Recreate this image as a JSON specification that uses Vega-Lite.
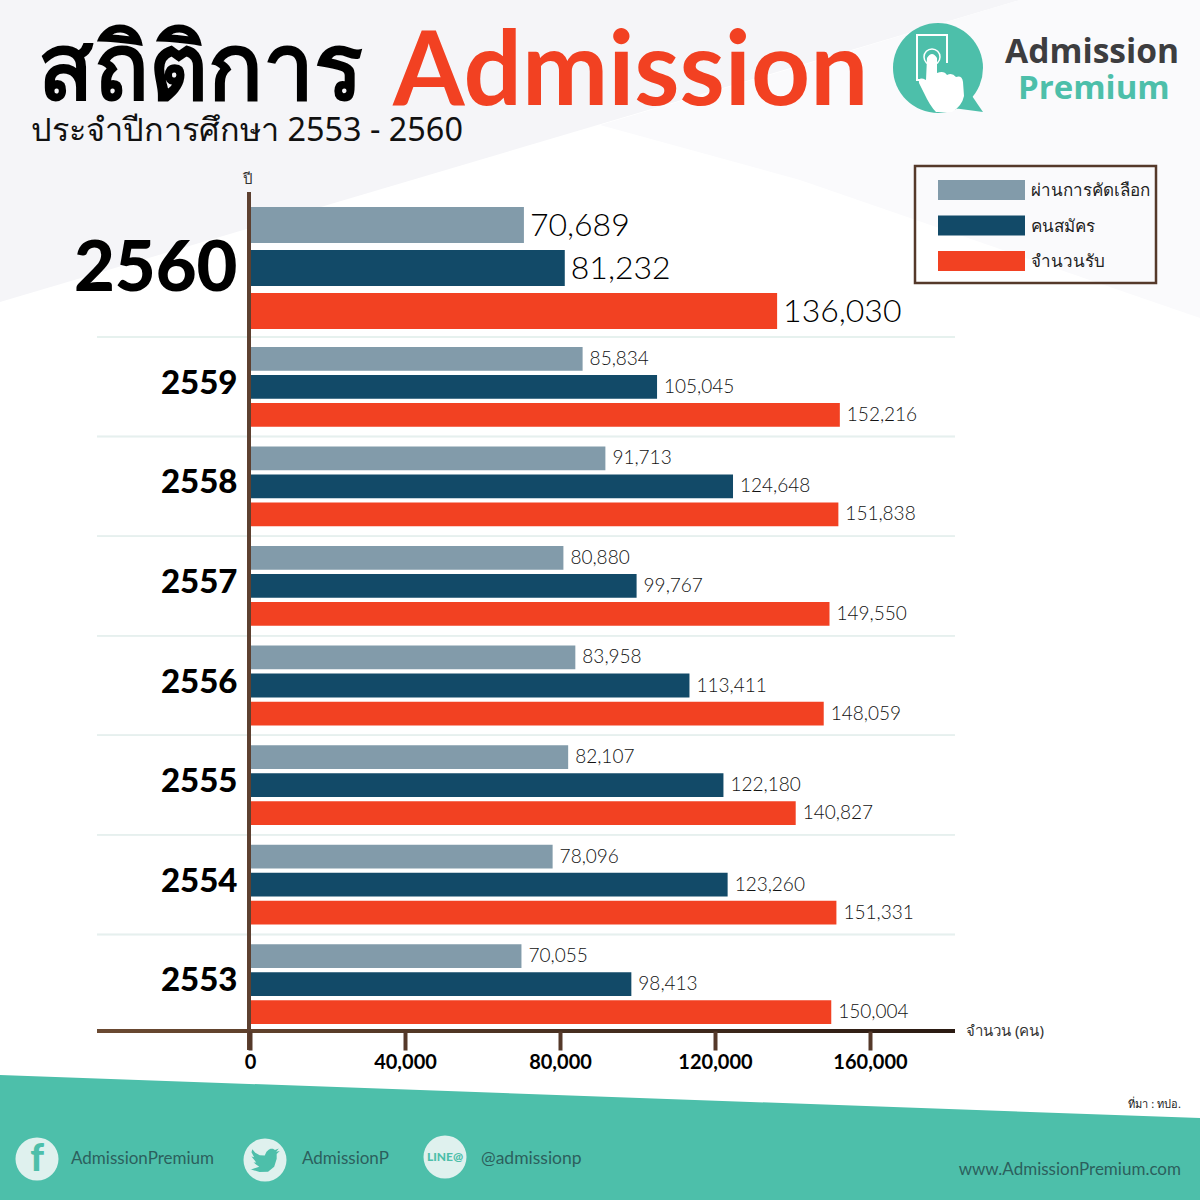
{"$schema":"https://vega.github.io/schema/vega-lite/v6.json","width":1200,"height":1200,"padding":0,"autosize":{"type":"none"},"background":"#ffffff","config":{"view":{"stroke":null}},
"datasets":{"bars":[
{"year":"2560","series":"ผ่านการคัดเลือก","value":70689},{"year":"2560","series":"คนสมัคร","value":81232},{"year":"2560","series":"จำนวนรับ","value":136030},
{"year":"2559","series":"ผ่านการคัดเลือก","value":85834},{"year":"2559","series":"คนสมัคร","value":105045},{"year":"2559","series":"จำนวนรับ","value":152216},
{"year":"2558","series":"ผ่านการคัดเลือก","value":91713},{"year":"2558","series":"คนสมัคร","value":124648},{"year":"2558","series":"จำนวนรับ","value":151838},
{"year":"2557","series":"ผ่านการคัดเลือก","value":80880},{"year":"2557","series":"คนสมัคร","value":99767},{"year":"2557","series":"จำนวนรับ","value":149550},
{"year":"2556","series":"ผ่านการคัดเลือก","value":83958},{"year":"2556","series":"คนสมัคร","value":113411},{"year":"2556","series":"จำนวนรับ","value":148059},
{"year":"2555","series":"ผ่านการคัดเลือก","value":82107},{"year":"2555","series":"คนสมัคร","value":122180},{"year":"2555","series":"จำนวนรับ","value":140827},
{"year":"2554","series":"ผ่านการคัดเลือก","value":78096},{"year":"2554","series":"คนสมัคร","value":123260},{"year":"2554","series":"จำนวนรับ","value":151331},
{"year":"2553","series":"ผ่านการคัดเลือก","value":70055},{"year":"2553","series":"คนสมัคร","value":98413},{"year":"2553","series":"จำนวนรับ","value":150004}],
"legendRows":[{"series":"ผ่านการคัดเลือก"},{"series":"คนสมัคร"},{"series":"จำนวนรับ"}],
"one":[{}],
"shapeA":[{"x":0,"y":0,"y2":302},{"x":1020,"y":0,"y2":0}],
"shapeB":[{"x":600,"y":125,"y2":125},{"x":800,"y":66,"y2":180},{"x":1020,"y":0,"y2":256},{"x":1200,"y":0,"y2":318}],
"shapeC":[{"x":0,"y":1075,"y2":1200},{"x":1200,"y":1118,"y2":1200}],
"shapeD":[{"x":251,"y":207,"y2":243},{"x":325,"y":207,"y2":207}]},
"resolve":{"scale":{"x":"independent","y":"independent","yOffset":"independent"}},
"layer":[
{"layer":[
{"data":{"name":"shapeA"},"mark":{"type":"area","color":"#f5f5f8"},"encoding":{"x":{"field":"x","type":"quantitative","scale":{"domain":[0,1200],"range":[0,1200]},"axis":null},"y":{"field":"y","type":"quantitative","scale":{"domain":[0,1200],"range":[0,1200]},"axis":null},"y2":{"field":"y2"}}},
{"data":{"name":"shapeB"},"mark":{"type":"area","color":"#fafafc"},"encoding":{"x":{"field":"x","type":"quantitative"},"y":{"field":"y","type":"quantitative"},"y2":{"field":"y2"}}},
{"data":{"name":"shapeC"},"mark":{"type":"area","color":"#4dbfaa"},"encoding":{"x":{"field":"x","type":"quantitative"},"y":{"field":"y","type":"quantitative"},"y2":{"field":"y2"}}}
]},
{"data":{"name":"bars"},"transform":[{"filter":"datum.year === '2560'"}],
"encoding":{
"y":{"field":"year","type":"nominal","scale":{"domain":["2560"],"range":[193,343],"padding":0},"axis":{"orient":"left","offset":-243,"zindex":1,"title":null,"domain":false,"ticks":false,"labelFont":"Lato","labelFontWeight":900,"labelFontSize":70.5,"labelColor":"#000000","labelPadding":6,"labelOffset":2,"labelAngle":0}},
"yOffset":{"field":"series","type":"nominal","scale":{"domain":["ผ่านการคัดเลือก","คนสมัคร","จำนวนรับ"],"paddingInner":0.16,"paddingOuter":0.324}},
"x":{"field":"value","type":"quantitative","scale":{"domain":[0,160000],"range":[250,870]},"axis":null}},
"layer":[
{"mark":{"type":"bar"},"encoding":{"color":{"field":"series","type":"nominal","scale":{"domain":["ผ่านการคัดเลือก","คนสมัคร","จำนวนรับ"],"range":["#829baa","#124a68","#f24122"]},"legend":null}}},
{"mark":{"type":"text","align":"left","dx":6,"dy":1,"font":"Lato","fontWeight":300,"fontSize":32,"color":"#000000"},"encoding":{"text":{"field":"value","type":"quantitative","format":","}}}
]},
{"data":{"name":"bars"},"transform":[{"filter":"datum.year !== '2560'"}],
"encoding":{
"y":{"field":"year","type":"nominal","scale":{"domain":["2559","2558","2557","2556","2555","2554","2553"],"range":[337,1034],"padding":0},"axis":{"orient":"left","offset":-243,"zindex":1,"title":null,"domain":false,"ticks":false,"labelFont":"Lato","labelFontWeight":900,"labelFontSize":33,"labelColor":"#000000","labelPadding":6,"labelOffset":-3,"labelAngle":0}},
"yOffset":{"field":"series","type":"nominal","scale":{"domain":["ผ่านการคัดเลือก","คนสมัคร","จำนวนรับ"],"paddingInner":0.152,"paddingOuter":0.353}},
"x":{"field":"value","type":"quantitative","scale":{"domain":[0,160000],"range":[250,870]},"axis":{"orient":"bottom","offset":-169,"zindex":1,"values":[0,40000,80000,120000,160000],"format":",.0f","title":null,"domain":false,"grid":false,"tickSize":19,"tickWidth":4,"tickColor":"#55392a","labelFont":"Lato","labelFontWeight":700,"labelFontSize":20,"labelColor":"#000000","labelPadding":2,"labelFlush":false}}},
"layer":[
{"mark":{"type":"rule","color":"#e6f0ee","strokeWidth":1.5},"encoding":{"y":{"field":"year","type":"nominal","bandPosition":0},"yOffset":{"value":0},"x":{"datum":-39484,"type":"quantitative"},"x2":{"datum":181935}}},
{"mark":{"type":"bar"},"encoding":{"color":{"field":"series","type":"nominal","scale":{"domain":["ผ่านการคัดเลือก","คนสมัคร","จำนวนรับ"],"range":["#829baa","#124a68","#f24122"]},"legend":null}}},
{"mark":{"type":"text","align":"left","dx":7,"font":"Lato","fontWeight":300,"fontSize":19,"color":"#111111"},"encoding":{"text":{"field":"value","type":"quantitative","format":","}}}
]},
{"data":{"name":"legendRows"},
"encoding":{
"y":{"field":"series","type":"nominal","scale":{"type":"point","domain":["ผ่านการคัดเลือก","คนสมัคร","จำนวนรับ"],"range":[190,261],"padding":0},"axis":null},
"x":{"datum":981.5,"type":"quantitative","scale":{"domain":[0,1200],"range":[0,1200]},"axis":null}},
"layer":[
{"mark":{"type":"point","filled":true,"opacity":1,"shape":"M-1,-0.23H1V0.23H-1Z","size":7569},"encoding":{"color":{"field":"series","type":"nominal","scale":{"domain":["ผ่านการคัดเลือก","คนสมัคร","จำนวนรับ"],"range":["#829baa","#124a68","#f24122"]},"legend":null}}},
{"mark":{"type":"text","align":"left","font":"Noto Sans","fontSize":17,"dy":1,"color":"#222222"},"encoding":{"x":{"datum":1031,"type":"quantitative"},"text":{"field":"series","type":"nominal"}}}
]},
{"data":{"name":"one"},
"encoding":{"x":{"datum":0,"type":"quantitative","scale":{"domain":[0,1200],"range":[0,1200]},"axis":null},"y":{"datum":0,"type":"quantitative","scale":{"domain":[0,1200],"range":[0,1200]},"axis":null}},
"layer":[
{"data":{"name":"shapeD"},"mark":{"type":"area","color":"#5b6b82","opacity":0.4},"encoding":{"x":{"field":"x","type":"quantitative"},"y":{"field":"y","type":"quantitative"},"y2":{"field":"y2"}}},
{"mark":{"type":"rect","color":{"x1":0,"x2":1,"y1":0,"y2":0,"gradient":"linear","stops":[{"offset":0,"color":"#6b4a32"},{"offset":1,"color":"#2a1a12"}]}},"encoding":{"x":{"datum":97,"type":"quantitative"},"x2":{"datum":955},"y":{"datum":1029,"type":"quantitative"},"y2":{"datum":1033}}},
{"mark":{"type":"rect","color":"#5d4030"},"encoding":{"x":{"datum":247,"type":"quantitative"},"x2":{"datum":251},"y":{"datum":192,"type":"quantitative"},"y2":{"datum":1050}}},
{"mark":{"type":"rect","fill":null,"stroke":"#55392a","strokeWidth":2.5},"encoding":{"x":{"datum":915,"type":"quantitative"},"x2":{"datum":1156},"y":{"datum":166,"type":"quantitative"},"y2":{"datum":283}}},
{"mark":{"type":"text","align":"left","font":"Noto Sans","fontWeight":900,"fontSize":91,"color":"#000000"},"encoding":{"x":{"datum":38,"type":"quantitative"},"y":{"datum":72,"type":"quantitative"},"text":{"value":"สถิติการ"}}},
{"mark":{"type":"text","align":"left","font":"Lato","fontWeight":700,"fontSize":103,"color":"#f24122"},"encoding":{"x":{"datum":393,"type":"quantitative"},"y":{"datum":74,"type":"quantitative"},"text":{"value":"Admission"}}},
{"mark":{"type":"text","align":"left","font":"Noto Sans","fontSize":32.4,"color":"#111111"},"encoding":{"x":{"datum":31,"type":"quantitative"},"y":{"datum":131,"type":"quantitative"},"text":{"value":"ประจำปีการศึกษา 2553 - 2560"}}},
{"mark":{"type":"text","align":"center","font":"Noto Sans","fontSize":15,"color":"#333333"},"encoding":{"x":{"datum":248,"type":"quantitative"},"y":{"datum":179,"type":"quantitative"},"text":{"value":"ปี"}}},
{"mark":{"type":"text","align":"left","font":"Noto Sans","fontSize":15,"color":"#333333"},"encoding":{"x":{"datum":966,"type":"quantitative"},"y":{"datum":1031,"type":"quantitative"},"text":{"value":"จำนวน (คน)"}}},
{"mark":{"type":"text","align":"right","font":"Noto Sans","fontSize":11,"color":"#222222"},"encoding":{"x":{"datum":1181,"type":"quantitative"},"y":{"datum":1105,"type":"quantitative"},"text":{"value":"ที่มา : ทปอ."}}},
{"mark":{"type":"point","filled":true,"opacity":1,"shape":"circle","size":8100,"color":"#4dbfaa"},"encoding":{"x":{"datum":938,"type":"quantitative"},"y":{"datum":68,"type":"quantitative"}}},
{"mark":{"type":"point","filled":true,"opacity":1,"shape":"M15,40 L45,44 L32,25Z","size":4,"color":"#4dbfaa"},"encoding":{"x":{"datum":938,"type":"quantitative"},"y":{"datum":68,"type":"quantitative"}}},
{"mark":{"type":"point","filled":false,"opacity":1,"shape":"M-17,12 L-21,12 L-21,-33 L9,-33 L9,-5","size":4,"color":"#ffffff","strokeWidth":2},"encoding":{"x":{"datum":938,"type":"quantitative"},"y":{"datum":68,"type":"quantitative"}}},
{"mark":{"type":"point","filled":false,"opacity":1,"shape":"circle","size":256,"color":"#ffffff","strokeWidth":1.5},"encoding":{"x":{"datum":932,"type":"quantitative"},"y":{"datum":57,"type":"quantitative"}}},
{"mark":{"type":"point","filled":true,"opacity":1,"shape":"M-11,-10 Q-6,-18 -1,-10 L-1,5 Q6,2 9,7 Q14,4 18,9 Q24,7 25,14 L26,28 Q24,38 14,44 L-2,44 Q-8,38 -14,25 L-19,15 Q-20,8 -12,12 Z","size":4,"color":"#ffffff"},"encoding":{"x":{"datum":938,"type":"quantitative"},"y":{"datum":68,"type":"quantitative"}}},
{"mark":{"type":"text","align":"left","font":"Open Sans","fontWeight":700,"fontSize":33.6,"color":"#3d3d3f"},"encoding":{"x":{"datum":1005,"type":"quantitative"},"y":{"datum":53,"type":"quantitative"},"text":{"value":"Admission"}}},
{"mark":{"type":"text","align":"left","font":"Open Sans","fontWeight":700,"fontSize":33,"color":"#4dbfaa"},"encoding":{"x":{"datum":1018,"type":"quantitative"},"y":{"datum":89,"type":"quantitative"},"text":{"value":"Premium"}}},
{"mark":{"type":"point","filled":true,"opacity":1,"shape":"circle","size":1850,"color":"#dff1ee"},"encoding":{"x":{"datum":37,"type":"quantitative"},"y":{"datum":1159,"type":"quantitative"}}},
{"mark":{"type":"point","filled":true,"opacity":1,"shape":"circle","size":1850,"color":"#dff1ee"},"encoding":{"x":{"datum":265,"type":"quantitative"},"y":{"datum":1160,"type":"quantitative"}}},
{"mark":{"type":"point","filled":true,"opacity":1,"shape":"circle","size":1850,"color":"#dff1ee"},"encoding":{"x":{"datum":445,"type":"quantitative"},"y":{"datum":1157,"type":"quantitative"}}},
{"mark":{"type":"text","align":"center","font":"Lato","fontWeight":900,"fontSize":38,"color":"#4dbfaa"},"encoding":{"x":{"datum":37,"type":"quantitative"},"y":{"datum":1160,"type":"quantitative"},"text":{"value":"f"}}},
{"mark":{"type":"point","filled":true,"opacity":1,"shape":"M11.95,-7.43 L9.13,-6.65 L11.29,-9.38 L8.16,-8.19 L6.5,-9.1 L4.5,-9.1 L3,-8.4 L1.2,-6.7 L-0.22,-3.71 L-4.31,-3.91 L-7.93,-5.87 L-10.36,-8.84 L-11.03,-6.36 L-8.84,-2.27 L-11.07,-2.88 L-7.12,2 L-9.33,2.09 L-4.73,5.5 L-10.83,7.6 L-12,7.54 L-4.44,9.75 L2.5,9.5 L7.5,5.5 L9.55,-1 L9.54,-4.87 L12,-7.41Z","size":6,"color":"#4dbfaa"},"encoding":{"x":{"datum":265,"type":"quantitative"},"y":{"datum":1160,"type":"quantitative"}}},
{"mark":{"type":"text","align":"center","font":"Lato","fontWeight":900,"fontSize":12,"color":"#4dbfaa"},"encoding":{"x":{"datum":445,"type":"quantitative"},"y":{"datum":1157,"type":"quantitative"},"text":{"value":"LINE@"}}},
{"mark":{"type":"text","align":"left","font":"Lato","fontSize":17,"color":"#2c5f5d"},"encoding":{"x":{"datum":71,"type":"quantitative"},"y":{"datum":1159,"type":"quantitative"},"text":{"value":"AdmissionPremium"}}},
{"mark":{"type":"text","align":"left","font":"Lato","fontSize":17,"color":"#2c5f5d"},"encoding":{"x":{"datum":302,"type":"quantitative"},"y":{"datum":1159,"type":"quantitative"},"text":{"value":"AdmissionP"}}},
{"mark":{"type":"text","align":"left","font":"Lato","fontSize":17.5,"color":"#2c5f5d"},"encoding":{"x":{"datum":481,"type":"quantitative"},"y":{"datum":1159,"type":"quantitative"},"text":{"value":"@admissionp"}}},
{"mark":{"type":"text","align":"right","font":"Lato","fontSize":17,"color":"#2c5f5d"},"encoding":{"x":{"datum":1181,"type":"quantitative"},"y":{"datum":1170,"type":"quantitative"},"text":{"value":"www.AdmissionPremium.com"}}}
]}
]}
